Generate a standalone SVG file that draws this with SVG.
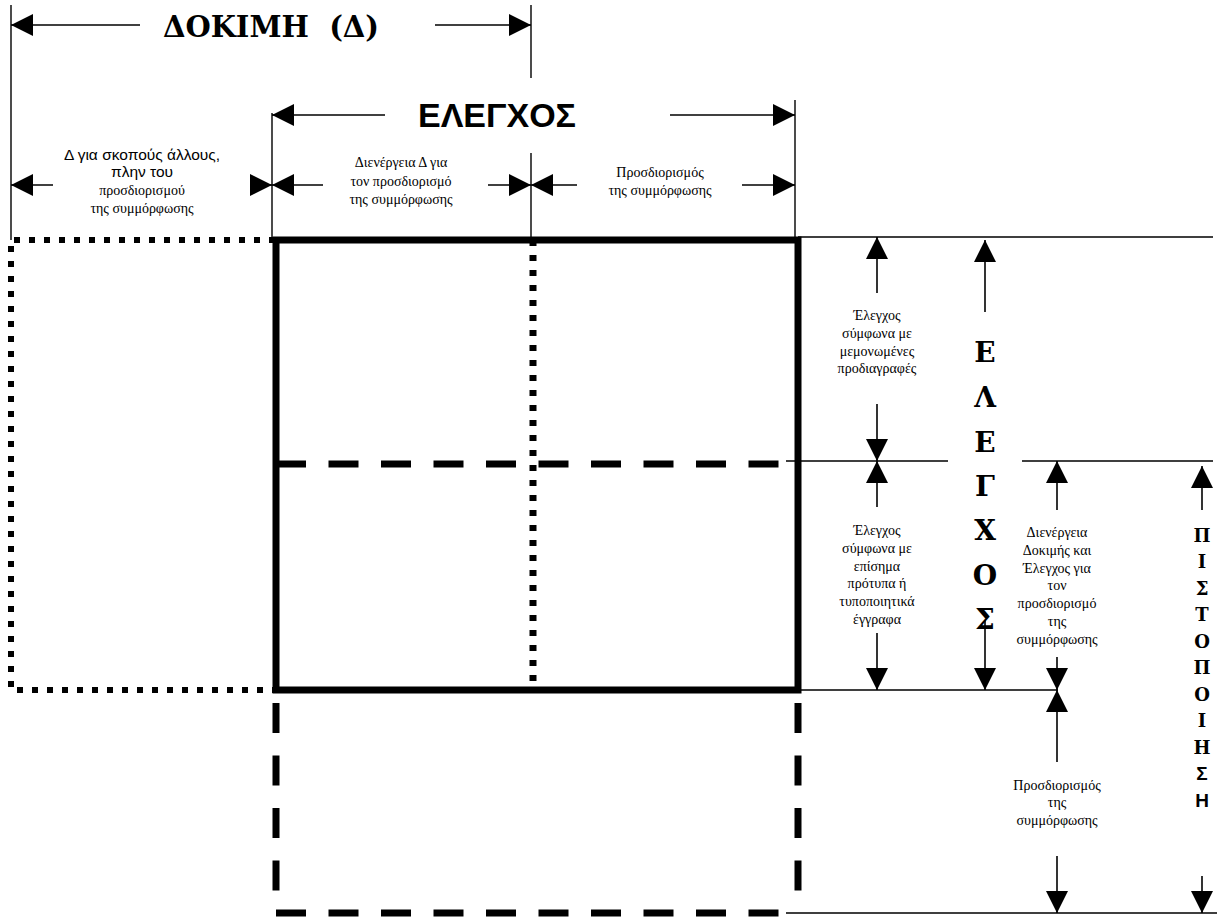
<svg xmlns="http://www.w3.org/2000/svg" width="1217" height="921" viewBox="0 0 1217 921">
<style>
.dim{stroke:#000;stroke-width:1.6;fill:none}
.ext{stroke:#000;stroke-width:1.4;fill:none}
.arr{marker-end:url(#ah)}
.dot{stroke:#000;stroke-width:6;fill:none;stroke-dasharray:6 9}
.solid{stroke:#000;stroke-width:7;fill:none}
.dash{stroke:#000;stroke-width:7;fill:none;stroke-dasharray:30 22.5}
.sr{font-family:"Liberation Serif","DejaVu Serif",serif;font-size:14px;fill:#000;text-anchor:middle}
.ss{font-family:"Liberation Sans",Arial,sans-serif;font-size:15.5px;fill:#000;text-anchor:middle}
.bigs{font-family:"DejaVu Serif",serif;font-weight:bold;fill:#000;text-anchor:middle}
.bigss{font-family:"Liberation Sans",Arial,sans-serif;font-weight:bold;fill:#000;text-anchor:middle}
</style>
<defs>
<marker id="ah" viewBox="0 0 22 22" refX="22" refY="11" markerWidth="22" markerHeight="22" markerUnits="userSpaceOnUse" orient="auto">
<path d="M0,0 L22,11 L0,22 z" fill="#000"/>
</marker>
</defs>
<rect width="1217" height="921" fill="#fff"/>

<g id="frame">
<path class="dot" d="M275,240 H11 V690 H275"/>
<path class="dot" style="stroke-width:7" d="M533,240 V690"/>
<path class="dash" d="M276,464 H798"/>
<path class="dash" style="stroke-dashoffset:39.5" d="M276,690 V913"/>
<path class="dash" style="stroke-dashoffset:39.5" d="M798,690 V913"/>
<path class="dash" d="M276,913 H798"/>
<rect class="solid" x="276" y="240" width="522" height="450"/>
</g>

<g id="connectors">
<path class="ext" d="M11,5 V240 M531,5 V78 M272,113 V240 M795,100 V237 M531,153 V240"/>
<path class="ext" d="M798,237 H1213 M786,461 H948 M1022,461 H1213 M798,690 H1058 M786,913 H1217"/>
<path class="dim arr" d="M140,25 H11"/>
<path class="dim arr" d="M435,25 H531"/>
<path class="dim arr" d="M385,115 H272"/>
<path class="dim arr" d="M670,115 H795"/>
<path class="dim arr" d="M53,185 H11"/>
<path class="dim arr" d="M255,185 H272"/>
<path class="dim arr" d="M323,185 H272"/>
<path class="dim arr" d="M488,185 H531"/>
<path class="dim arr" d="M577,185 H531"/>
<path class="dim arr" d="M742,185 H795"/>
<path class="dim arr" d="M877,293 V237"/>
<path class="dim arr" d="M877,404 V461"/>
<path class="dim arr" d="M877,507 V461"/>
<path class="dim arr" d="M877,633 V690"/>
<path class="dim arr" d="M985,312 V240"/>
<path class="dim arr" d="M985,620 V690"/>
<path class="dim arr" d="M1057,510 V461"/>
<path class="dim arr" d="M1057,657 V690"/>
<path class="dim arr" d="M1057,762 V690"/>
<path class="dim arr" d="M1057,856 V913"/>
<path class="dim arr" d="M1202,510 V466"/>
<path class="dim arr" d="M1202,876 V913"/>
</g>

<g id="dokimi">
<text class="bigs" x="271" y="37" font-size="29" style="white-space:pre">ΔΟΚΙΜΗ  (Δ)</text>
</g>
<g id="elegxos-top">
<text class="bigss" x="497" y="127" font-size="34">ΕΛΕΓΧΟΣ</text>
</g>
<g id="label-other">
<text class="ss" x="142" y="160">Δ για σκοπούς άλλους,</text>
<text class="ss" x="142" y="177">πλην του</text>
<text class="sr" x="142" y="195">προσδιορισμού</text>
<text class="sr" x="142" y="213">της συμμόρφωσης</text>
</g>
<g id="label-test">
<text class="sr" x="401" y="167">Διενέργεια Δ για</text>
<text class="sr" x="401" y="186">τον προσδιορισμό</text>
<text class="sr" x="401" y="204">της συμμόρφωσης</text>
</g>
<g id="label-determination-top">
<text class="sr" x="660" y="177">Προσδιορισμός</text>
<text class="sr" x="660" y="195">της συμμόρφωσης</text>
</g>
<g id="label-specs">
<text class="sr" x="877" y="320">Έλεγχος</text>
<text class="sr" x="877" y="338">σύμφωνα με</text>
<text class="sr" x="877" y="356">μεμονωμένες</text>
<text class="sr" x="877" y="373">προδιαγραφές</text>
</g>
<g id="label-standards">
<text class="sr" x="877" y="535">Έλεγχος</text>
<text class="sr" x="877" y="553">σύμφωνα με</text>
<text class="sr" x="877" y="571">επίσημα</text>
<text class="sr" x="877" y="588">πρότυπα ή</text>
<text class="sr" x="877" y="606">τυποποιητικά</text>
<text class="sr" x="877" y="624">έγγραφα</text>
</g>
<g id="elegxos-vertical">
<text class="bigs" x="985" y="362" font-size="28">Ε</text>
<text class="bigs" x="985" y="407" font-size="28">Λ</text>
<text class="bigs" x="985" y="452" font-size="28">Ε</text>
<text class="bigs" x="985" y="496" font-size="28">Γ</text>
<text class="bigs" x="985" y="540" font-size="28">Χ</text>
<text class="bigs" x="985" y="585" font-size="28">Ο</text>
<text class="bigs" x="985" y="629" font-size="28">Σ</text>
</g>
<g id="label-test-control">
<text class="sr" x="1057" y="537">Διενέργεια</text>
<text class="sr" x="1057" y="555">Δοκιμής και</text>
<text class="sr" x="1057" y="573">Έλεγχος για</text>
<text class="sr" x="1057" y="590">τον</text>
<text class="sr" x="1057" y="608">προσδιορισμό</text>
<text class="sr" x="1057" y="626">της</text>
<text class="sr" x="1057" y="644">συμμόρφωσης</text>
</g>
<g id="label-determination-bottom">
<text class="sr" x="1057" y="790">Προσδιορισμός</text>
<text class="sr" x="1057" y="807">της</text>
<text class="sr" x="1057" y="825">συμμόρφωσης</text>
</g>
<g id="pistopoiisi">
<text class="bigs" x="1202" y="542" font-size="18">Π</text>
<text class="bigs" x="1202" y="568" font-size="18">Ι</text>
<text class="bigs" x="1202" y="595" font-size="18">Σ</text>
<text class="bigs" x="1202" y="621" font-size="18">Τ</text>
<text class="bigs" x="1202" y="648" font-size="18">Ο</text>
<text class="bigs" x="1202" y="674" font-size="18">Π</text>
<text class="bigs" x="1202" y="701" font-size="18">Ο</text>
<text class="bigs" x="1202" y="727" font-size="18">Ι</text>
<text class="bigs" x="1202" y="754" font-size="18">Η</text>
<text class="bigss" x="1202" y="780" font-size="19">Σ</text>
<text class="bigss" x="1202" y="807" font-size="19">Η</text>
</g>
</svg>
